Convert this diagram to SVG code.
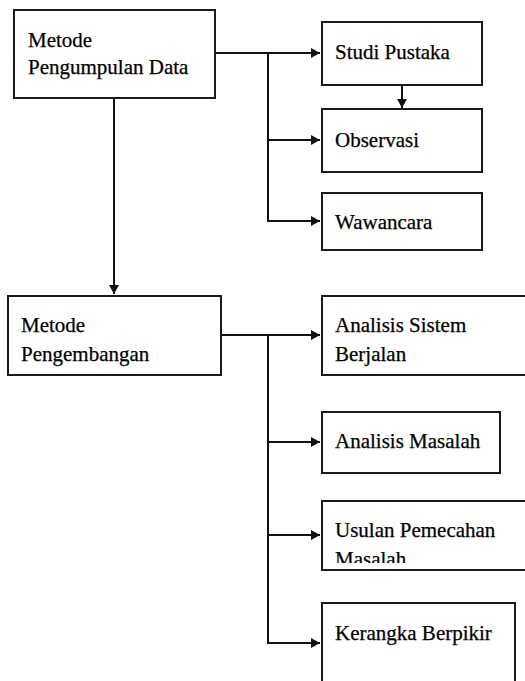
<svg xmlns="http://www.w3.org/2000/svg" width="525" height="681" viewBox="0 0 525 681">
<style>
.box{fill:#fff;stroke:#1a1a1a;stroke-width:2}
.t{font-family:"Liberation Serif","Times New Roman",serif;font-size:21px;fill:#000;stroke:#000;stroke-width:0.25}
.c{fill:none;stroke:#111;stroke-width:2}
</style>
<defs>
<marker id="ah" viewBox="0 0 9 10" refX="9" refY="5" markerWidth="9" markerHeight="10" markerUnits="userSpaceOnUse" orient="auto">
<path d="M0,0 L9,5 L0,10 Z" fill="#111"/>
</marker>
<clipPath id="clipU"><rect x="322" y="500" width="203" height="63"/></clipPath>
</defs>
<rect width="525" height="681" fill="#fff"/>
<g id="connectors">
<path class="c" d="M215,53 H320" marker-end="url(#ah)"/>
<path class="c" d="M268,53 V221 H320" marker-end="url(#ah)"/>
<path class="c" d="M268,140 H320" marker-end="url(#ah)"/>
<path class="c" d="M402,85 V108" marker-end="url(#ah)"/>
<path class="c" d="M114,98 V294" marker-end="url(#ah)"/>
<path class="c" d="M221,335 H320" marker-end="url(#ah)"/>
<path class="c" d="M268,335 V643 H320" marker-end="url(#ah)"/>
<path class="c" d="M268,442 H320" marker-end="url(#ah)"/>
<path class="c" d="M268,535 H320" marker-end="url(#ah)"/>
</g>
<g id="n-pengumpulan">
<rect class="box" x="14" y="10" width="201" height="88"/>
<text class="t" x="28" y="47">Metode</text>
<text class="t" x="28" y="74">Pengumpulan Data</text>
</g>
<g id="n-studi">
<rect class="box" x="322" y="22" width="160" height="63"/>
<text class="t" x="335" y="59">Studi Pustaka</text>
</g>
<g id="n-observasi">
<rect class="box" x="322" y="109" width="160" height="63"/>
<text class="t" x="335" y="147">Observasi</text>
</g>
<g id="n-wawancara">
<rect class="box" x="322" y="193" width="160" height="57"/>
<text class="t" x="335" y="229">Wawancara</text>
</g>
<g id="n-pengembangan">
<rect class="box" x="8" y="296" width="213" height="79"/>
<text class="t" x="21" y="332">Metode</text>
<text class="t" x="21" y="361">Pengembangan</text>
</g>
<g id="n-analisis-sistem">
<rect class="box" x="322" y="296" width="210" height="79"/>
<text class="t" x="335" y="332">Analisis Sistem</text>
<text class="t" x="335" y="361">Berjalan</text>
</g>
<g id="n-analisis-masalah">
<rect class="box" x="322" y="412" width="178" height="61"/>
<text class="t" x="335" y="448">Analisis Masalah</text>
</g>
<g id="n-usulan">
<rect class="box" x="322" y="501" width="210" height="69"/>
<text class="t" x="335" y="537">Usulan Pemecahan</text>
<text class="t" x="335" y="566" clip-path="url(#clipU)">Masalah</text>
</g>
<g id="n-kerangka">
<rect class="box" x="322" y="603" width="193" height="90"/>
<text class="t" x="335" y="640">Kerangka Berpikir</text>
</g>
</svg>
